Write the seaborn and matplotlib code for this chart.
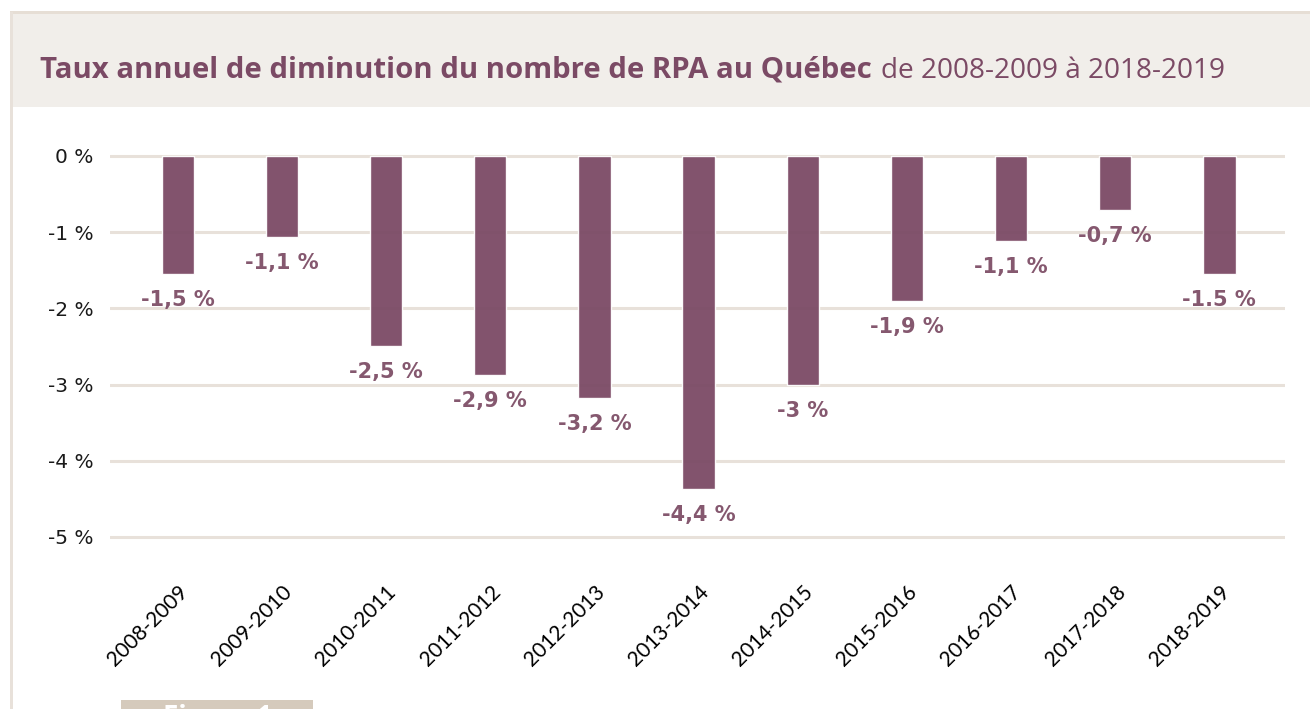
import matplotlib
matplotlib.use("Agg")
import matplotlib.pyplot as plt
from matplotlib.patches import Rectangle
import seaborn as sns

# Data
periods = ["2008-2009", "2009-2010", "2010-2011", "2011-2012", "2012-2013", "2013-2014",
           "2014-2015", "2015-2016", "2016-2017", "2017-2018", "2018-2019"]
rates = [-1.55, -1.06, -2.49, -2.87, -3.18, -4.37, -3.01, -1.90, -1.12, -0.71, -1.55]
rate_labels = ["-1,5 %", "-1,1 %", "-2,5 %", "-2,9 %", "-3,2 %", "-4,4 %",
               "-3 %", "-1,9 %", "-1,1 %", "-0,7 %", "-1.5 %"]
y_ticks = [0, -1, -2, -3, -4, -5]
y_tick_labels = ["0 %", "-1 %", "-2 %", "-3 %", "-4 %", "-5 %"]

purple = "#7b4a65"
grid_col = "#e8e1da"

sns.set_style("white")
plt.rcParams["font.family"] = ["DejaVu Sans"]

fig = plt.figure(figsize=(13.1, 7.09), dpi=100)

# header band and frame lines
fig.patches.append(Rectangle((10 / 1310, 1 - 107 / 709), 1, 95 / 709, transform=fig.transFigure,
                             facecolor="#f1eeea", edgecolor="none", zorder=0))
fig.patches.append(Rectangle((10 / 1310, 1 - 14 / 709), 1, 3 / 709, transform=fig.transFigure,
                             facecolor="#e6ded5", edgecolor="none", zorder=1))
fig.patches.append(Rectangle((10 / 1310, 0), 3 / 1310, 1 - 12 / 709, transform=fig.transFigure,
                             facecolor="#e8e1da", edgecolor="none", zorder=1))
fig.patches.append(Rectangle((121 / 1310, 0), 192 / 1310, 9 / 709, transform=fig.transFigure,
                             facecolor="#d5cabc", edgecolor="none", zorder=1))
fig.text(163 / 1310, -24 / 709, "Figure 1", color="white", fontsize=20, fontweight="bold",
         family="Open Sans", va="bottom")

# title: bold part then regular part
t1 = fig.text(40 / 1310, 1 - 78 / 709, "Taux annuel de diminution du nombre de RPA au Québec",
              color=purple, fontsize=21.2, fontweight="bold", family="Open Sans", va="baseline")
fig.canvas.draw()
bb = t1.get_window_extent()
fig.text(bb.x1 / 1310 + 9 / 1310, 1 - 78 / 709, "de 2008-2009 à 2018-2019",
         color=purple, fontsize=20.2, family="Open Sans", va="baseline")

ax = fig.add_axes([110 / 1310, 0.2319, 1175 / 1310, 0.5804])
sns.barplot(x=periods, y=rates, color=purple, width=0.31, saturation=1, alpha=0.95,
            ax=ax, zorder=3)
ax.set_xlim(-0.65, 10.63)
ax.set_ylim(-5.1, 0.3)
ax.set_yticks(y_ticks)
ax.set_yticklabels(y_tick_labels, fontsize=14.5, color="#1a1a1a", family="DejaVu Sans")
ax.yaxis.grid(True, color=grid_col, linewidth=2.2, zorder=1)
ax.set_axisbelow(True)
for s in ax.spines.values():
    s.set_visible(False)
ax.tick_params(axis="y", length=0, pad=12)
ax.tick_params(axis="x", length=0, pad=27)
ax.set_xlabel("")
ax.set_ylabel("")
for lab in ax.get_xticklabels():
    lab.set_rotation(45)
    lab.set_ha("right")
    lab.set_va("top")
    lab.set_rotation_mode("anchor")
    lab.set_fontsize(15)
    lab.set_family("Lato")
    lab.set_color("#000000")

for i, (v, txt) in enumerate(zip(rates, rate_labels)):
    ax.annotate(txt, (i, v), xytext=(0, -23), textcoords="offset points",
                ha="center", va="baseline", fontsize=15, fontweight="bold",
                family="DejaVu Sans", color="#85586f")

fig.savefig("out.png", dpi=100)
